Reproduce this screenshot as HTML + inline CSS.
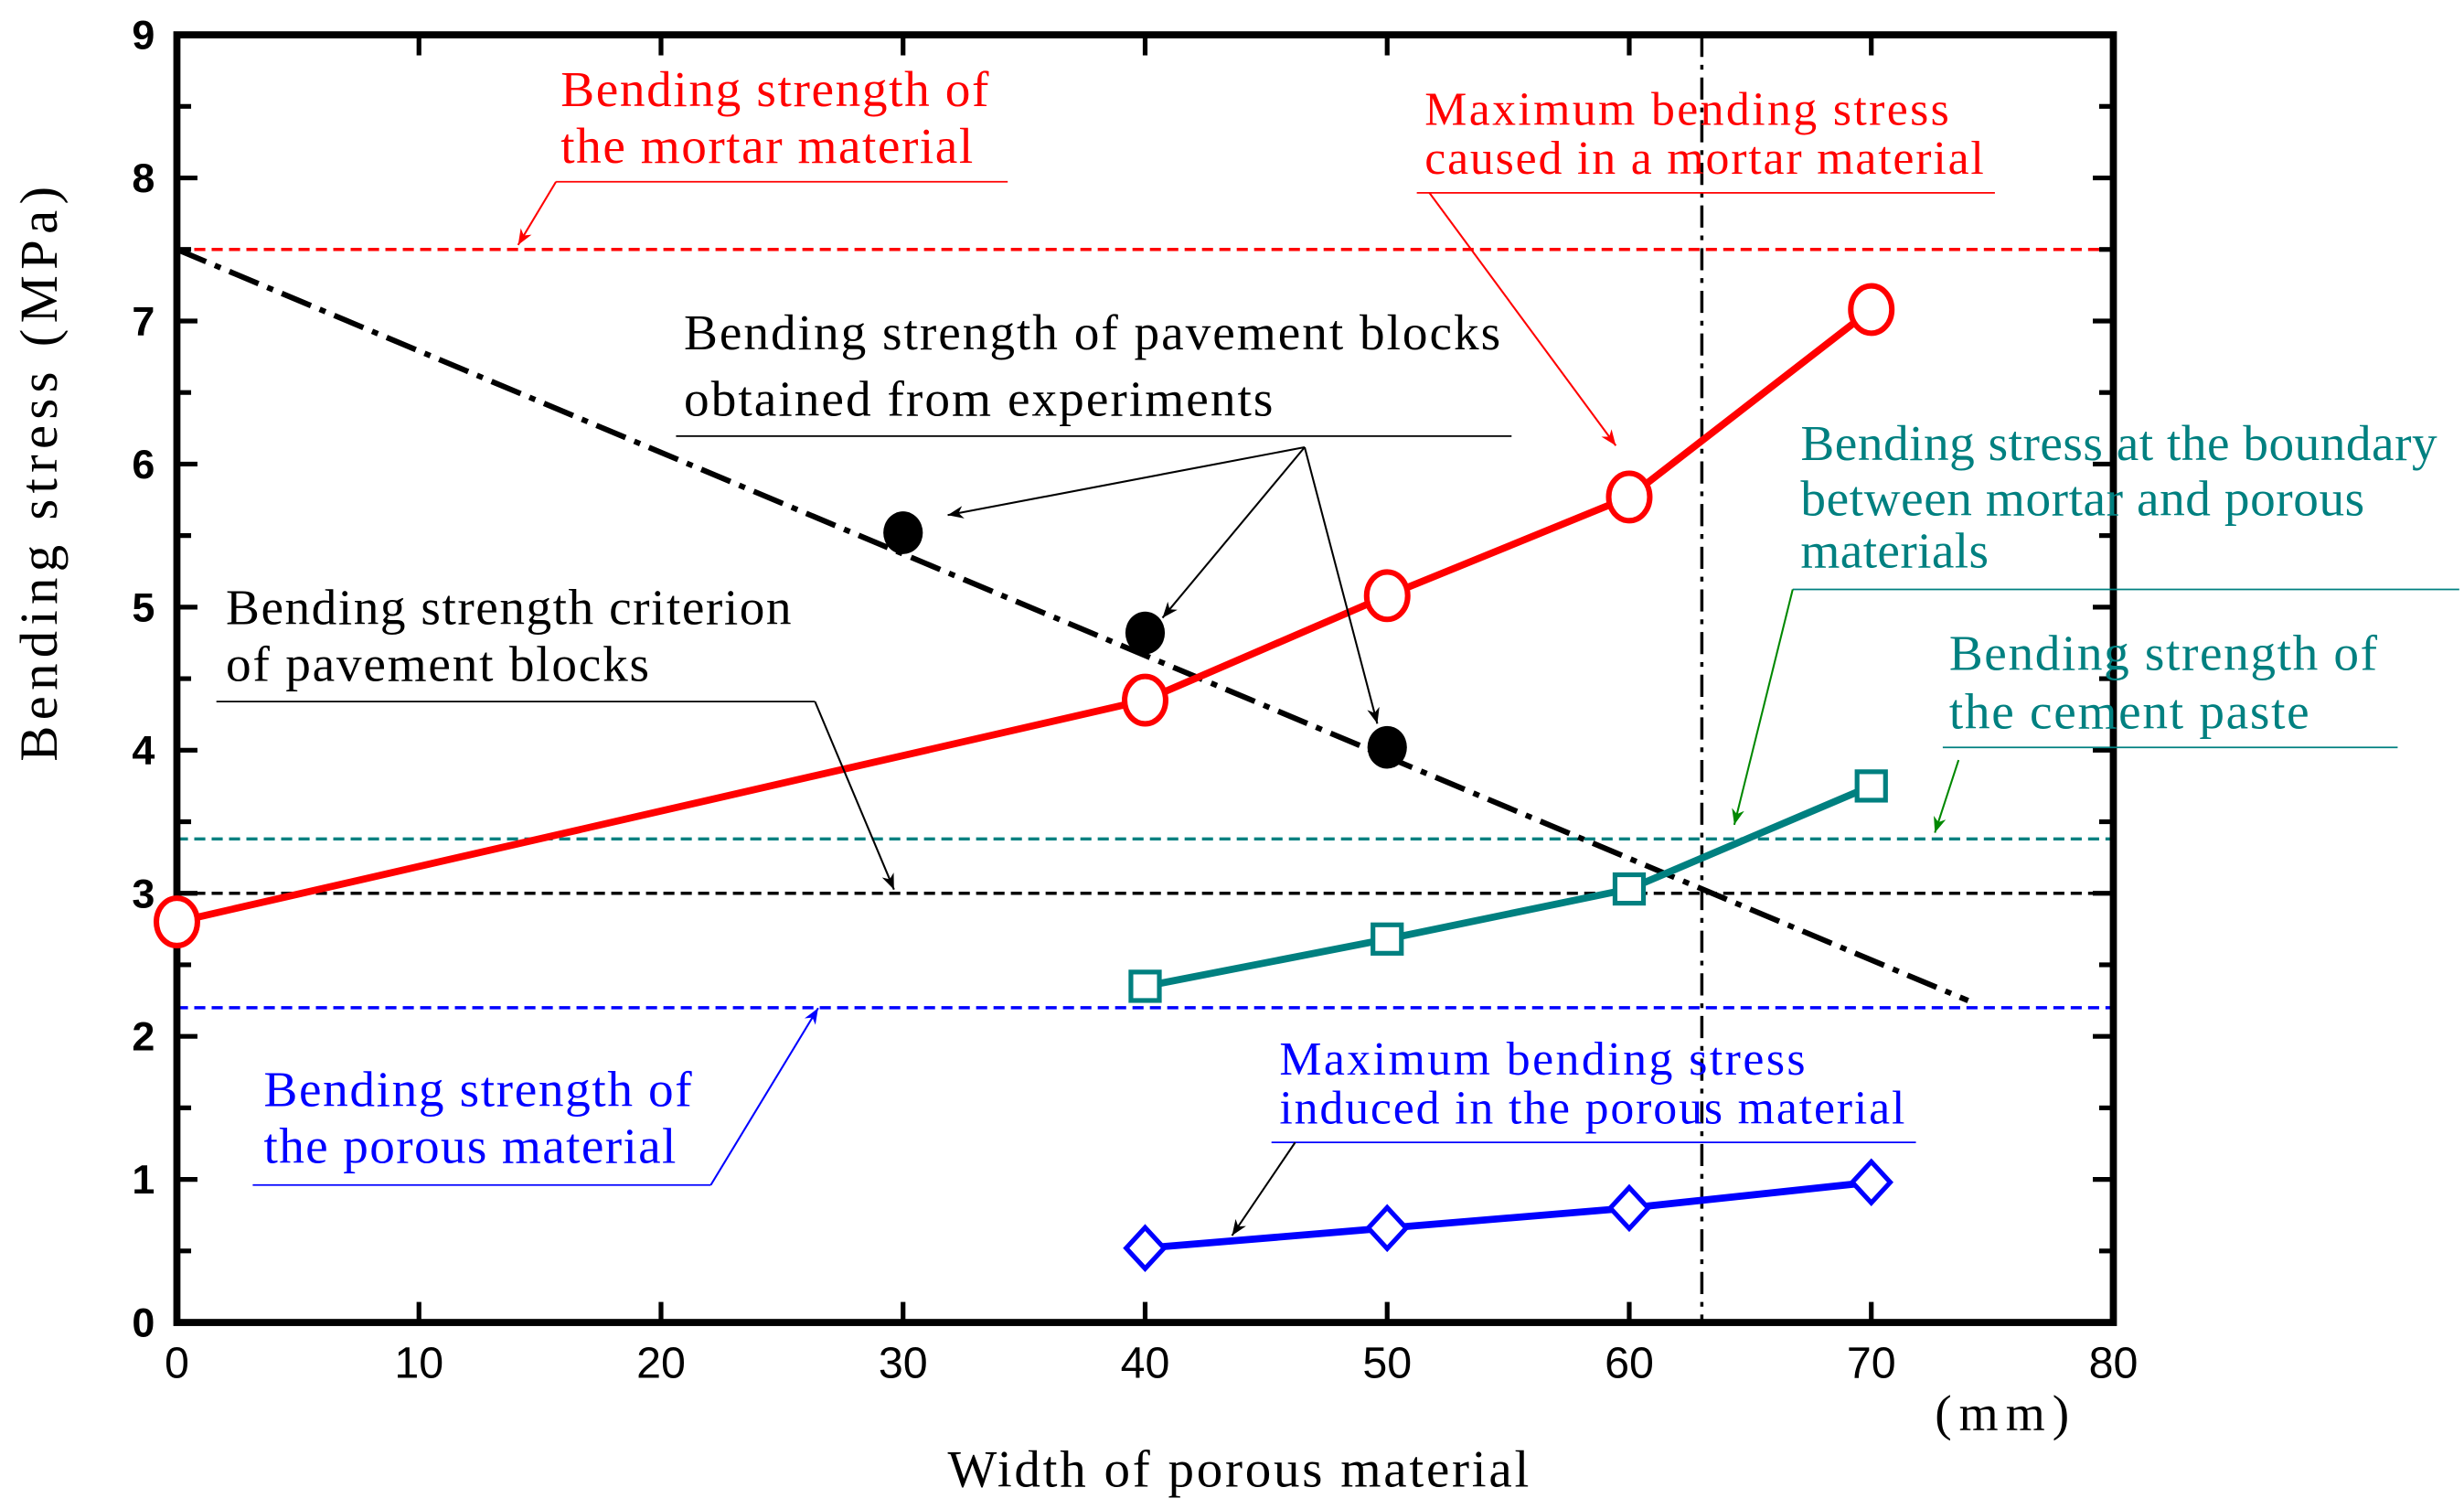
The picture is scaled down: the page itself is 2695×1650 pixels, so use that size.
<!DOCTYPE html>
<html><head><meta charset="utf-8"><style>
html,body{margin:0;padding:0;background:#fff}
svg{display:block}
text{font-family:"Liberation Serif",serif}
.tk{font-family:"Liberation Sans",sans-serif}
</style></head><body>
<svg id="chart" width="2695" height="1650" viewBox="0 0 1560 955" xmlns="http://www.w3.org/2000/svg">
<defs>
<marker id="ak" markerWidth="10" markerHeight="8" refX="10" refY="4" orient="auto" markerUnits="userSpaceOnUse"><path d="M0,0 L10,4 L0,8 L3,4z" fill="#000"/></marker>
<marker id="ar" markerWidth="10" markerHeight="8" refX="10" refY="4" orient="auto" markerUnits="userSpaceOnUse"><path d="M0,0 L10,4 L0,8 L3,4z" fill="#f00"/></marker>
<marker id="ag" markerWidth="10" markerHeight="8" refX="10" refY="4" orient="auto" markerUnits="userSpaceOnUse"><path d="M0,0 L10,4 L0,8 L3,4z" fill="#080"/></marker>
<marker id="ab" markerWidth="10" markerHeight="8" refX="10" refY="4" orient="auto" markerUnits="userSpaceOnUse"><path d="M0,0 L10,4 L0,8 L3,4z" fill="#00f"/></marker>
</defs>
<g id="grid"></g>
<g id="marks"></g>
<g id="annot" font-size="32">
<g fill="#f00">
<text x="355" y="67" textLength="271" lengthAdjust="spacing">Bending strength of</text><text x="355" y="103" textLength="261" lengthAdjust="spacing">the mortar material</text>
<line x1="352" y1="115" x2="638" y2="115" stroke="#f00" stroke-width="1"/>
<line x1="352" y1="115" x2="328" y2="155" stroke="#f00" stroke-width="1.2" marker-end="url(#ar)"/></g>
<g fill="#f00">
<text x="902" y="79" font-size="30" textLength="332" lengthAdjust="spacing">Maximum bending stress</text><text x="902" y="110" font-size="30" textLength="354" lengthAdjust="spacing">caused in a mortar material</text>
<line x1="897" y1="122" x2="1263" y2="122" stroke="#f00" stroke-width="1"/>
<line x1="905" y1="122" x2="1023" y2="282" stroke="#f00" stroke-width="1.2" marker-end="url(#ar)"/></g>
<g fill="#000">
<text x="433" y="221" textLength="517" lengthAdjust="spacing">Bending strength of pavement blocks</text><text x="433" y="263" textLength="373" lengthAdjust="spacing">obtained from experiments</text>
<line x1="428" y1="276" x2="957" y2="276" stroke="#000" stroke-width="1"/>
<line x1="826" y1="283" x2="600" y2="326" stroke="#000" stroke-width="1.2" marker-end="url(#ak)"/>
<line x1="826" y1="283" x2="736" y2="391" stroke="#000" stroke-width="1.2" marker-end="url(#ak)"/>
<line x1="826" y1="283" x2="872" y2="458" stroke="#000" stroke-width="1.2" marker-end="url(#ak)"/></g>
<g fill="#008080">
<text x="1140" y="291" textLength="403" lengthAdjust="spacing">Bending stress at the boundary</text><text x="1140" y="326" textLength="357" lengthAdjust="spacing">between mortar and porous</text><text x="1140" y="359" textLength="119" lengthAdjust="spacing">materials</text>
<line x1="1135" y1="373" x2="1557" y2="373" stroke="#008080" stroke-width="1"/>
<line x1="1135" y1="373" x2="1098" y2="522" stroke="#080" stroke-width="1.2" marker-end="url(#ag)"/></g>
<g fill="#008080">
<text x="1234" y="424" textLength="271" lengthAdjust="spacing">Bending strength of</text><text x="1234" y="461" textLength="228" lengthAdjust="spacing">the cement paste</text>
<line x1="1230" y1="473" x2="1518" y2="473" stroke="#008080" stroke-width="1"/>
<line x1="1240" y1="481" x2="1225" y2="527" stroke="#080" stroke-width="1.2" marker-end="url(#ag)"/></g>
<g fill="#000">
<text x="143" y="395" textLength="358" lengthAdjust="spacing">Bending strength criterion</text><text x="143" y="431" textLength="268" lengthAdjust="spacing">of pavement blocks</text>
<line x1="137" y1="444" x2="516" y2="444" stroke="#000" stroke-width="1"/>
<line x1="516" y1="444" x2="566" y2="563" stroke="#000" stroke-width="1.2" marker-end="url(#ak)"/></g>
<g fill="#00f">
<text x="167" y="700" textLength="271" lengthAdjust="spacing">Bending strength of</text><text x="167" y="736" textLength="261" lengthAdjust="spacing">the porous material</text>
<line x1="160" y1="750" x2="450" y2="750" stroke="#00f" stroke-width="1"/>
<line x1="450" y1="750" x2="518" y2="638" stroke="#00f" stroke-width="1.2" marker-end="url(#ab)"/></g>
<g fill="#00f">
<text x="810" y="680" font-size="30" textLength="333" lengthAdjust="spacing">Maximum bending stress</text><text x="810" y="711" font-size="30" textLength="396" lengthAdjust="spacing">induced in the porous material</text>
<line x1="805" y1="723" x2="1213" y2="723" stroke="#00f" stroke-width="1"/>
<line x1="820" y1="723" x2="780" y2="782" stroke="#000" stroke-width="1.2" marker-end="url(#ak)"/></g>
</g>
<text transform="translate(36,300) rotate(-90)" x="-182" y="0" font-size="34" textLength="364" lengthAdjust="spacing">Bending stress (MPa)</text>
<text x="600" y="941" font-size="33" textLength="368" lengthAdjust="spacing">Width of porous material</text>
<text x="1225" y="905" font-size="32" textLength="85" lengthAdjust="spacing">(mm)</text>
</svg>
<script>
const xTicks=[0,10,20,30,40,50,60,70,80];
const yTicks=[0,1,2,3,4,5,6,7,8,9];
const mortarX=[0,40,50,60,70];
const mortarY=[2.8,4.35,5.08,5.77,7.08];
const expX=[30,40,50];
const expY=[5.52,4.82,4.02];
const critLineX=[0,74];
const critLineY=[7.5,2.25];
const boundaryX=[40,50,60,70];
const boundaryY=[2.35,2.68,3.03,3.75];
const porousX=[40,50,60,70];
const porousY=[0.52,0.66,0.8,0.98];
const hLevels=[7.5,3.38,3.0,2.2];
const hColors=['#f00','#008080','#000','#00f'];
const hNames=['mortar-strength-line','cement-paste-line','criterion-line','porous-strength-line'];
const vLineX=[63];

const L=112,R=1338,T=22,B=837;
const sx=v=>L+(v-0)/(80-0)*(R-L);
const sy=v=>B-(v-0)/(9-0)*(B-T);
const NS='http://www.w3.org/2000/svg';
const grid=document.getElementById('grid'),marks=document.getElementById('marks');
function mk(tag,attrs,parent){const e=document.createElementNS(NS,tag);for(const k in attrs)e.setAttribute(k,attrs[k]);parent.appendChild(e);return e;}

hLevels.forEach((v,i)=>{
  const e=mk('line',{x1:L,x2:R,y1:sy(v),y2:sy(v),stroke:hColors[i],'stroke-width':2,'stroke-dasharray':'7,4'},grid);
  
  
});
vLineX.forEach(v=>{
  const e=mk('line',{x1:sx(v),x2:sx(v),y1:T,y2:B,stroke:'#000','stroke-width':2,'stroke-dasharray':'14,5,3,5'},grid);
  
  
});
{
  const e=mk('line',{x1:sx(critLineX[0]),y1:sy(critLineY[0]),x2:sx(critLineX[1]),y2:sy(critLineY[1]),stroke:'#000','stroke-width':3.5,'stroke-dasharray':'20,6,4,6'},marks);
  
  
}
function series(xs,ys,color,name){
  const e=mk('polyline',{points:xs.map((x,i)=>sx(x)+','+sy(ys[i])).join(' '),fill:'none',stroke:color,'stroke-width':4.5},marks);
  
  
}
series(mortarX,mortarY,'#f00','mortar-stress');
series(boundaryX,boundaryY,'#008080','boundary-stress');
series(porousX,porousY,'#00f','porous-stress');
mortarX.forEach((x,i)=>{
  const e=mk('ellipse',{cx:sx(x),cy:sy(mortarY[i]),rx:13,ry:15,fill:'#fff',stroke:'#f00','stroke-width':3.5},marks);
  
  
});
expX.forEach((x,i)=>{
  const e=mk('ellipse',{cx:sx(x),cy:sy(expY[i]),rx:12.5,ry:13.5,fill:'#000'},marks);
  
  
});
boundaryX.forEach((x,i)=>{
  const e=mk('rect',{x:sx(x)-9,y:sy(boundaryY[i])-9,width:18,height:18,fill:'#fff',stroke:'#008080','stroke-width':3},marks);
  
  
});
porousX.forEach((x,i)=>{
  const cx=sx(x),cy=sy(porousY[i]);
  const e=mk('polygon',{points:`${cx},${cy-13} ${cx+12},${cy} ${cx},${cy+13} ${cx-12},${cy}`,fill:'#fff',stroke:'#00f','stroke-width':3},marks);
  
  
});
{
  const e=mk('rect',{x:L,y:T,width:R-L,height:B-T,fill:'none',stroke:'#000','stroke-width':4.5},grid);
  
  
}
yTicks.forEach(v=>{
  const y=sy(v);
  mk('line',{x1:L,x2:L+13,y1:y,y2:y,stroke:'#000','stroke-width':3},grid);
  mk('line',{x1:R,x2:R-13,y1:y,y2:y,stroke:'#000','stroke-width':3},grid);
  if(v<9){const ym=sy(v+0.5);
    mk('line',{x1:L,x2:L+9,y1:ym,y2:ym,stroke:'#000','stroke-width':3},grid);
    mk('line',{x1:R,x2:R-9,y1:ym,y2:ym,stroke:'#000','stroke-width':3},grid);}
  const t=mk('text',{x:L-14,y:y+9,'text-anchor':'end','font-size':26,'font-weight':'bold',class:'tk'},grid);
  t.textContent=v;
  
  
});
xTicks.forEach(v=>{
  const x=sx(v);
  mk('line',{x1:x,x2:x,y1:B,y2:B-13,stroke:'#000','stroke-width':3},grid);
  mk('line',{x1:x,x2:x,y1:T,y2:T+13,stroke:'#000','stroke-width':3},grid);
  const t=mk('text',{x:x,y:872,'text-anchor':'middle','font-size':28,class:'tk'},grid);
  t.textContent=v;
  
  
});
</script>
</body></html>
